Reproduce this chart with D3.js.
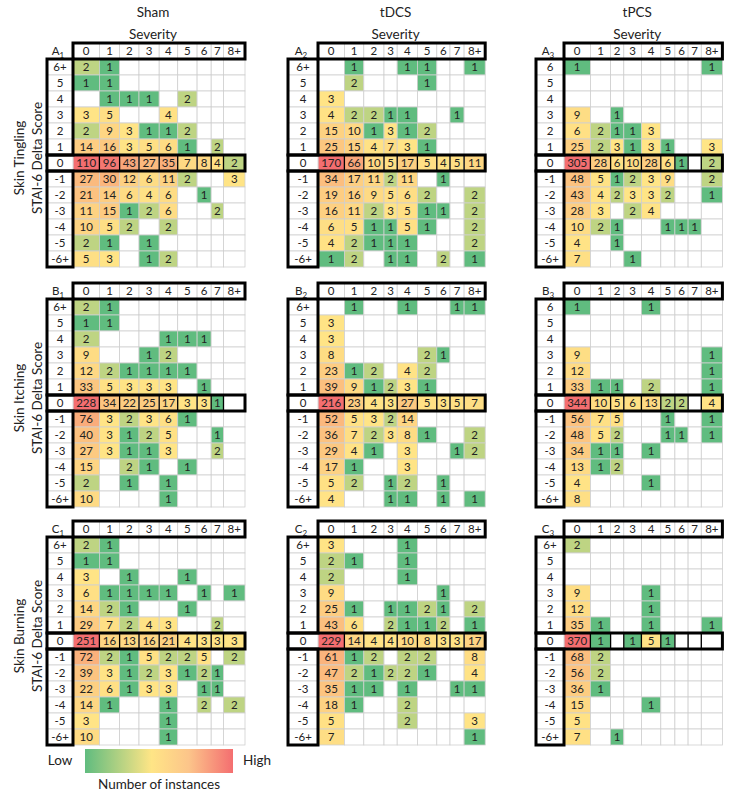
<!DOCTYPE html>
<html><head><meta charset="utf-8">
<script src="https://cdn.jsdelivr.net/npm/d3@7"></script>
<style>
body{margin:0;background:#fff}
text{font-family:Lato,"Open Sans",sans-serif;fill:#222}
</style></head>
<body><svg id="chart" width="754" height="797"></svg>
<script>
// ---------------- data ----------------
const treatments = ["Sham", "tDCS", "tPCS"];
const symptoms = ["Skin Tingling", "Skin Itching", "Skin Burning"];
const yTitle = "STAI-6 Delta Score";
const xTitle = "Severity";
const panelLetters = ["A", "B", "C"];
const colLabels = ["0","1","2","3","4","5","6","7","8+"];
const rowLabelsPlus = ["6+","5","4","3","2","1","0","-1","-2","-3","-4","-5","-6+"];
const rowLabelsSix  = ["6","5","4","3","2","1","0","-1","-2","-3","-4","-5","-6+"];

const shamTingling = [
  [2,1,0,0,0,0,0,0,0],[1,1,0,0,0,0,0,0,0],[0,1,1,1,0,2,0,0,0],[3,5,0,0,4,0,0,0,0],
  [2,9,3,1,1,2,0,0,0],[14,16,3,5,6,1,0,2,0],[110,96,43,27,35,7,8,4,2],
  [27,30,12,6,11,2,0,0,3],[21,14,6,4,6,0,1,0,0],[11,15,1,2,6,0,0,2,0],
  [10,5,2,0,2,0,0,0,0],[2,1,0,1,0,0,0,0,0],[5,3,0,1,2,0,0,0,0]];
const tdcsTingling = [
  [0,1,0,0,1,1,0,0,1],[0,2,0,0,0,1,0,0,0],[3,0,0,0,0,0,0,0,0],[4,2,2,1,1,0,0,1,0],
  [15,10,1,3,1,2,0,0,0],[25,15,4,7,3,1,0,0,0],[170,66,10,5,17,5,4,5,11],
  [34,17,11,2,11,0,1,0,0],[19,16,9,5,6,2,0,0,2],[16,11,2,3,5,1,1,0,2],
  [6,5,1,1,5,1,0,0,2],[4,2,1,1,1,0,0,0,2],[1,2,0,1,1,0,2,0,1]];
const tpcsTingling = [
  [1,0,0,0,0,0,0,0,1],[0,0,0,0,0,0,0,0,0],[0,0,0,0,0,0,0,0,0],[9,0,1,0,0,0,0,0,0],
  [6,2,1,1,3,0,0,0,0],[25,2,3,1,3,1,0,0,3],[305,28,6,10,28,6,1,0,2],
  [48,5,1,2,3,9,0,0,2],[43,4,2,3,3,2,0,0,1],[28,3,0,2,4,0,0,0,0],
  [10,2,1,0,0,1,1,1,0],[4,0,1,0,0,0,0,0,0],[7,0,0,1,0,0,0,0,0]];
const shamItching = [
  [2,1,0,0,0,0,0,0,0],[1,1,0,0,0,0,0,0,0],[2,0,0,0,1,1,1,0,0],[9,0,0,1,2,0,0,0,0],
  [12,2,1,1,1,1,0,0,0],[33,5,3,3,3,0,1,0,0],[228,34,22,25,17,3,3,1,0],
  [76,3,2,3,6,1,0,0,0],[40,3,1,2,5,0,0,1,0],[27,3,1,1,3,0,0,2,0],
  [15,0,2,1,0,1,0,0,0],[2,0,1,0,1,0,0,0,0],[10,0,0,0,1,0,0,0,0]];
const tdcsItching = [
  [0,1,0,0,1,0,0,1,1],[3,0,0,0,0,0,0,0,0],[3,0,0,0,0,0,0,0,0],[8,0,0,0,0,2,1,0,0],
  [23,1,2,0,4,2,0,0,0],[39,9,1,2,3,1,0,0,0],[216,23,4,3,27,5,3,5,7],
  [52,5,3,2,14,0,0,0,0],[36,7,2,3,8,1,0,0,2],[29,4,1,0,3,0,0,1,2],
  [17,1,0,0,3,0,0,0,0],[5,2,0,1,2,0,1,0,0],[4,0,0,1,1,0,1,0,1]];
const tpcsItching = [
  [1,0,0,0,1,0,0,0,0],[0,0,0,0,0,0,0,0,0],[0,0,0,0,0,0,0,0,0],[9,0,0,0,0,0,0,0,1],
  [12,0,0,0,0,0,0,0,1],[33,1,1,0,2,0,0,0,1],[344,10,5,6,13,2,2,0,4],
  [56,7,5,0,0,1,0,0,1],[48,5,2,0,0,1,1,0,1],[34,1,1,0,1,0,0,0,0],
  [13,1,2,0,0,0,0,0,0],[4,0,0,0,1,0,0,0,0],[8,0,0,0,0,0,0,0,0]];
const shamBurning = [
  [2,1,0,0,0,0,0,0,0],[1,1,0,0,0,0,0,0,0],[3,0,1,0,0,1,0,0,0],[6,1,1,1,1,0,1,0,1],
  [14,2,1,0,0,1,0,0,0],[29,7,2,4,3,0,0,2,0],[251,16,13,16,21,4,3,3,3],
  [72,2,1,5,2,2,5,0,2],[39,3,1,2,3,1,2,1,0],[22,6,1,3,3,0,1,1,0],
  [14,1,0,0,1,0,2,0,2],[3,0,0,0,1,0,0,0,0],[10,0,0,0,1,0,0,0,0]];
const tdcsBurning = [
  [3,0,0,0,1,0,0,0,0],[2,1,0,0,1,0,0,0,0],[2,0,0,0,1,0,0,0,0],[9,0,0,0,0,0,1,0,0],
  [25,1,0,1,1,2,1,0,2],[43,6,0,2,1,1,2,0,1],[229,14,4,4,10,8,3,3,17],
  [61,1,2,0,2,2,0,0,8],[47,2,1,2,2,1,0,0,4],[35,1,1,0,1,0,0,1,1],
  [18,1,0,0,2,0,0,0,0],[5,0,0,0,2,0,0,0,3],[7,0,0,0,0,0,0,0,1]];
const tpcsBurning = [
  [2,0,0,0,0,0,0,0,0],[0,0,0,0,0,0,0,0,0],[0,0,0,0,0,0,0,0,0],[9,0,0,0,1,0,0,0,0],
  [12,0,0,0,1,0,0,0,0],[35,1,0,0,1,0,0,0,1],[370,1,0,1,5,1,0,0,0],
  [68,2,0,0,0,0,0,0,0],[56,2,0,0,0,0,0,0,0],[36,1,0,0,0,0,0,0,0],
  [15,0,0,0,1,0,0,0,0],[5,0,0,0,0,0,0,0,0],[7,0,1,0,0,0,0,0,0]];

const panels = [
  {row:0, col:0, data:shamTingling, rows:rowLabelsPlus},
  {row:0, col:1, data:tdcsTingling, rows:rowLabelsPlus},
  {row:0, col:2, data:tpcsTingling, rows:rowLabelsSix},
  {row:1, col:0, data:shamItching, rows:rowLabelsPlus},
  {row:1, col:1, data:tdcsItching, rows:rowLabelsPlus},
  {row:1, col:2, data:tpcsItching, rows:rowLabelsSix},
  {row:2, col:0, data:shamBurning, rows:rowLabelsPlus},
  {row:2, col:1, data:tdcsBurning, rows:rowLabelsPlus},
  {row:2, col:2, data:tpcsBurning, rows:rowLabelsPlus}];

// ---------------- layout ----------------
const panelTop = [43, 283, 521];
const blockLeft = [47, 288, 536];
const labelW = [26, 30, 28];
const colW = [[26.4,20.2,19.4,20.2,18.5,19.4,14.1,12.3,21.5],
              [26.4,19.4,20.2,13.2,20.2,19.4,13.2,14.1,21.1],
              [26.4,20.2,13.2,17.6,19.4,14.1,13.2,13.2,21.1]];
const rowH = 16;
const FS = 11.5;
const GREEN = "#60BC7F", YELLOW = "#FFE586", RED = "#F46E70";
const MID = 2.7;

const svg = d3.select("#chart");

function colorFor(v, max) {
  if (!v) return "#ffffff";
  if (v <= MID) return d3.scaleLinear().domain([1, MID]).range([GREEN, YELLOW]).interpolate(d3.interpolateRgb)(v);
  return d3.scalePow().exponent(0.6).domain([MID, max]).range([YELLOW, RED]).interpolate(d3.interpolateRgb).clamp(true)(v);
}

// column titles
treatments.forEach((t, c) => {
  const w = d3.sum(colW[c]);
  const cx = blockLeft[c] + labelW[c] + w / 2 - 6;
  svg.append("text").attr("x", cx).attr("y", 17).attr("text-anchor", "middle").attr("font-size", 13.5).text(t);
  svg.append("text").attr("x", cx).attr("y", 39).attr("text-anchor", "middle").attr("font-size", 13.5).text(xTitle);
});

// row titles
symptoms.forEach((s, r) => {
  const cy = panelTop[r] + rowH + 13 * rowH / 2 - 5;
  const g = svg.append("g").attr("transform", `translate(0,${cy}) rotate(-90)`);
  g.append("text").attr("x", 0).attr("y", 24).attr("text-anchor", "middle").attr("font-size", 13.5).text(s);
  g.append("text").attr("x", 0).attr("y", 42).attr("text-anchor", "middle").attr("font-size", 13.5).text(yTitle);
});

panels.forEach(p => {
  const c = p.col, r = p.row;
  const left = blockLeft[c], top = panelTop[r];
  const dataLeft = left + labelW[c];
  const offsets = d3.cumsum([0].concat(colW[c])).slice(0, colLabels.length);
  const x = d3.scaleOrdinal().domain(colLabels).range(offsets.map(o => dataLeft + o));
  const wd = d3.scaleOrdinal().domain(colLabels).range(colW[c]);
  const y = d3.scaleBand().domain(p.rows).range([top + rowH, top + rowH * 14]);
  const right = dataLeft + d3.sum(colW[c]);
  const max = d3.max(p.data.flat());
  const g = svg.append("g");

  const cells = [];
  p.data.forEach((row, i) => row.forEach((v, j) => cells.push({r: p.rows[i], c: colLabels[j], v})));

  g.selectAll("rect.cell").data(cells).join("rect").attr("class", "cell")
    .attr("x", d => x(d.c)).attr("y", d => y(d.r)).attr("width", d => wd(d.c)).attr("height", y.bandwidth())
    .attr("fill", d => colorFor(d.v, max)).attr("stroke", "#cfcfcf").attr("stroke-width", 0.8);
  g.selectAll("text.val").data(cells.filter(d => d.v > 0)).join("text").attr("class", "val")
    .attr("x", d => x(d.c) + wd(d.c) / 2).attr("y", d => y(d.r) + y.bandwidth() / 2)
    .attr("dy", "0.36em").attr("text-anchor", "middle").attr("font-size", FS).text(d => d.v);

  g.selectAll("rect.hdr").data(colLabels).join("rect").attr("class", "hdr")
    .attr("x", d => x(d)).attr("y", top).attr("width", d => wd(d)).attr("height", rowH)
    .attr("fill", "#fff").attr("stroke", "#cfcfcf").attr("stroke-width", 0.8);
  g.selectAll("text.hdr").data(colLabels).join("text").attr("class", "hdr")
    .attr("x", d => x(d) + wd(d) / 2).attr("y", top + rowH / 2).attr("dy", "0.36em")
    .attr("text-anchor", "middle").attr("font-size", FS).text(d => d);

  g.selectAll("rect.rl").data(p.rows).join("rect").attr("class", "rl")
    .attr("x", left).attr("y", d => y(d)).attr("width", labelW[c]).attr("height", y.bandwidth())
    .attr("fill", "#fff").attr("stroke", "#cfcfcf").attr("stroke-width", 0.8);
  g.selectAll("text.rl").data(p.rows).join("text").attr("class", "rl")
    .attr("x", left + labelW[c] / 2).attr("y", d => y(d) + y.bandwidth() / 2).attr("dy", "0.36em")
    .attr("text-anchor", "middle").attr("font-size", FS).text(d => d);

  const id = g.append("text").attr("x", left + labelW[c] / 2 - 2).attr("y", top + rowH / 2 + 4)
    .attr("text-anchor", "middle").attr("font-size", FS);
  id.append("tspan").text(panelLetters[r]);
  id.append("tspan").attr("font-size", 8).attr("dy", 3).text(c + 1);

  g.selectAll("line.z").data(colLabels.slice(1)).join("line").attr("class", "z")
    .attr("x1", d => x(d)).attr("x2", d => x(d)).attr("y1", y("0")).attr("y2", y("0") + y.bandwidth())
    .attr("stroke", "#000").attr("stroke-width", 1.3);

  const thick = [
    [dataLeft, top, right - dataLeft, rowH],
    [left, y(p.rows[0]), labelW[c], y("0") - y(p.rows[0])],
    [left, y("0"), right - left, y.bandwidth()],
    [left, y(p.rows[7]), labelW[c], y.bandwidth() * 6]];
  g.selectAll("rect.thick").data(thick).join("rect").attr("class", "thick")
    .attr("x", d => d[0]).attr("y", d => d[1]).attr("width", d => d[2]).attr("height", d => d[3])
    .attr("fill", "none").attr("stroke", "#000").attr("stroke-width", 3);
});

// legend
const defs = svg.append("defs");
const grad = defs.append("linearGradient").attr("id", "lg");
[[0, GREEN], [0.45, YELLOW], [0.7, "#FCC58A"], [1, RED]].forEach(s =>
  grad.append("stop").attr("offset", s[0]).attr("stop-color", s[1]));
svg.append("rect").attr("x", 85).attr("y", 749).attr("width", 148).attr("height", 24).attr("fill", "url(#lg)");
svg.append("text").attr("x", 60).attr("y", 765).attr("text-anchor", "middle").attr("font-size", 13.5).text("Low");
svg.append("text").attr("x", 257).attr("y", 765).attr("text-anchor", "middle").attr("font-size", 13.5).text("High");
svg.append("text").attr("x", 159).attr("y", 789).attr("text-anchor", "middle").attr("font-size", 13.5).text("Number of instances");
</script></body></html>
